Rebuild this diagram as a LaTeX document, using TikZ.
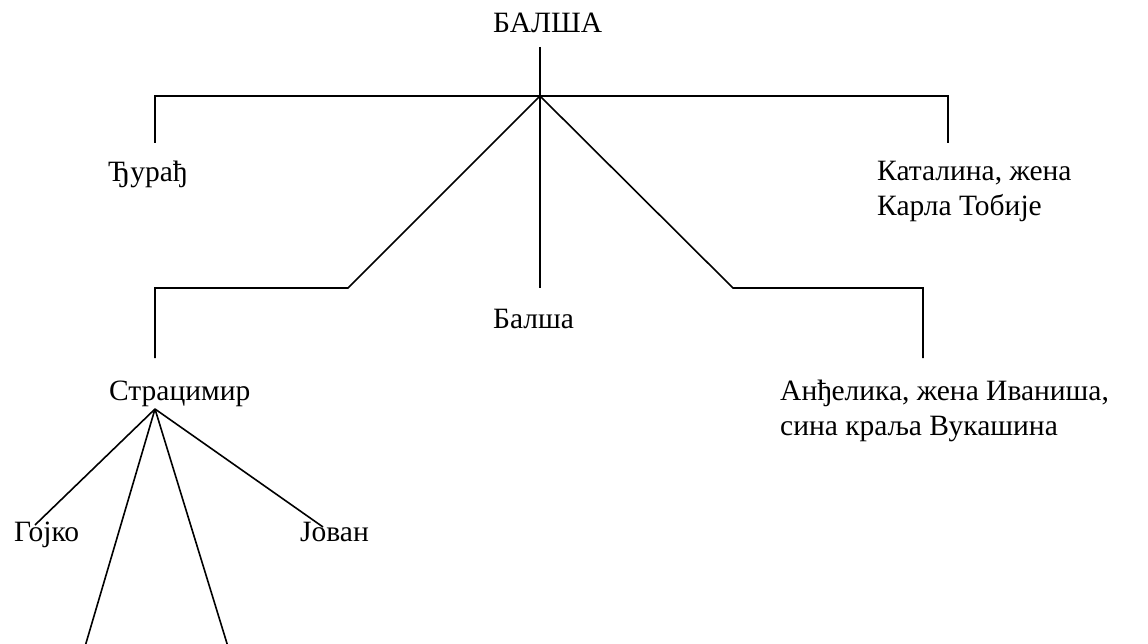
\documentclass[tikz,border=0pt]{standalone}
\usepackage{fontspec}
\setmainfont{Liberation Serif}
\begin{document}
\begin{tikzpicture}[x=1pt,y=-1pt,
  edge/.style={line width=1.6pt, line cap=butt},
  lbl/.style={font=\fontsize{29.5}{35}\selectfont, inner sep=0pt, anchor=base west, align=left}]
\useasboundingbox[fill=white] (0,0) rectangle (1148,644);
% labels (multi-line nodes: base = last line's baseline)
\node[lbl] (balsha) at (493,33) {БАЛША};
\node[lbl] (djuradj) at (108,182) {Ђурађ};
\node[lbl] (katalina) at (877,216) {Каталина, жена\\Карла Тобије};
\node[lbl] (balsha2) at (493,328) {Балша};
\node[lbl] (stracimir) at (109,400) {Страцимир};
\node[lbl] (andjelika) at (780,435) {Анђелика, жена Иваниша,\\сина краља Вукашина};
\node[lbl] (gojko) at (14,541) {Гојко};
\node[lbl] (jovan) at (300,541) {Јован};
\node[lbl] (pagenum) at (1141,664) {1};
% junction points
\coordinate (top) at (540,47);
\coordinate (j) at (540,96);
\coordinate (dj) at (155,143);
\coordinate (kt) at (948,143);
\coordinate (lb) at (348,288);
\coordinate (rb) at (733,288);
\coordinate (st) at (155,358);
\coordinate (an) at (923,358);
\coordinate (bm) at (540,288);
\coordinate (apex) at (155,409);
\coordinate (gj) at (35,525);
\coordinate (jv) at (323,527);
\coordinate (b1) at (84,650);
\coordinate (b2) at (229,650);
% connectors
\draw[edge] (top) -- (j);
\draw[edge] (dj) -- (dj |- j) -- (kt |- j) -- (kt);
\draw[edge] (j) -- (lb) -- (lb -| st) -- (st);
\draw[edge] (j) -- (bm);
\draw[edge] (j) -- (rb) -- (rb -| an) -- (an);
\draw[edge] (apex) -- (gj);
\draw[edge] (apex) -- (jv);
\draw[edge] (apex) -- (b1);
\draw[edge] (apex) -- (b2);
\end{tikzpicture}
\end{document}
